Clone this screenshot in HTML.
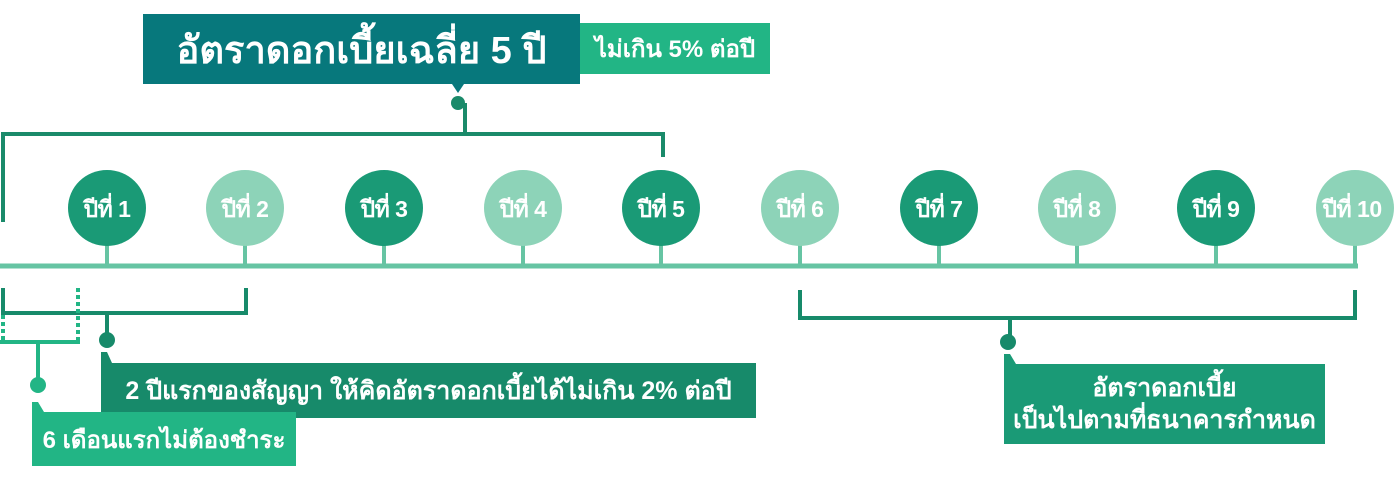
<!DOCTYPE html>
<html><head><meta charset="utf-8"><style>
html,body{margin:0;padding:0;background:#fff;}
body{width:1400px;height:480px;position:relative;overflow:hidden;font-family:"Liberation Sans","Noto Sans CJK SC",sans-serif;}
.a{position:absolute;}
.box{position:absolute;color:#fff;display:flex;align-items:center;justify-content:center;text-align:center;white-space:nowrap;}
</style></head><body>
<svg class="a" style="left:0;top:0" width="1400" height="480">
<g fill="none" stroke-linecap="butt">
<path d="M3 222 V134 H663 V157" stroke="#1a8a6a" stroke-width="4"/>
<line x1="465" y1="103" x2="465" y2="134" stroke="#1a8a6a" stroke-width="4"/>
<line x1="0" y1="266" x2="1358" y2="266" stroke="#66c4a3" stroke-width="5"/>
<g stroke="#66c4a3" stroke-width="4">
<line x1="107" y1="240" x2="107" y2="266"/><line x1="245" y1="240" x2="245" y2="266"/>
<line x1="384" y1="240" x2="384" y2="266"/><line x1="523" y1="240" x2="523" y2="266"/>
<line x1="661" y1="240" x2="661" y2="266"/><line x1="800" y1="240" x2="800" y2="266"/>
<line x1="939" y1="240" x2="939" y2="266"/><line x1="1077" y1="240" x2="1077" y2="266"/>
<line x1="1216" y1="240" x2="1216" y2="266"/><line x1="1355" y1="240" x2="1355" y2="266"/>
</g>
<path d="M3 288 V313 H246 V288" stroke="#178a6a" stroke-width="4"/>
<line x1="107" y1="313" x2="107" y2="340" stroke="#178a6a" stroke-width="4"/>
<line x1="78" y1="288" x2="78" y2="342" stroke="#22b585" stroke-width="4" stroke-dasharray="4 3"/>
<line x1="3" y1="315" x2="3" y2="342" stroke="#22b585" stroke-width="4" stroke-dasharray="4 3"/>
<line x1="0" y1="342" x2="80" y2="342" stroke="#22b585" stroke-width="4"/>
<line x1="38" y1="342" x2="38" y2="385" stroke="#22b585" stroke-width="4"/>
<path d="M800 290 V318 H1355 V290" stroke="#178a6a" stroke-width="4"/>
<line x1="1010" y1="318" x2="1010" y2="342" stroke="#178a6a" stroke-width="4"/>
</g>
<g>
<circle cx="458" cy="103" r="7" fill="#1a8a6a"/>
<circle cx="107" cy="340" r="8" fill="#178a6a"/>
<circle cx="38" cy="385" r="8" fill="#22b585"/>
<circle cx="1008" cy="342" r="8" fill="#178a6a"/>
<polygon points="452,84 464,84 458,93" fill="#07787c"/>
<polygon points="101,363 101,352 107,352 112,363" fill="#178a6a"/>
<polygon points="32,412 32,402 38,402 44,412" fill="#22b585"/>
<polygon points="1004,364 1004,354 1010,354 1016,364" fill="#1a9a76"/>
</g>
<g font-family="Liberation Sans, sans-serif" font-weight="bold" font-size="23" fill="#fff" text-anchor="middle" letter-spacing="-0.5">
<ellipse cx="107" cy="208" rx="39" ry="38" fill="#1a9a76"/><text x="107" y="217">ปีที่ 1</text>
<ellipse cx="245" cy="208" rx="39" ry="38" fill="#8dd3b8"/><text x="245" y="217">ปีที่ 2</text>
<ellipse cx="384" cy="208" rx="39" ry="38" fill="#1a9a76"/><text x="384" y="217">ปีที่ 3</text>
<ellipse cx="523" cy="208" rx="39" ry="38" fill="#8dd3b8"/><text x="523" y="217">ปีที่ 4</text>
<ellipse cx="661" cy="208" rx="39" ry="38" fill="#1a9a76"/><text x="661" y="217">ปีที่ 5</text>
<ellipse cx="800" cy="208" rx="39" ry="38" fill="#8dd3b8"/><text x="800" y="217">ปีที่ 6</text>
<ellipse cx="939" cy="208" rx="39" ry="38" fill="#1a9a76"/><text x="939" y="217">ปีที่ 7</text>
<ellipse cx="1077" cy="208" rx="39" ry="38" fill="#8dd3b8"/><text x="1077" y="217">ปีที่ 8</text>
<ellipse cx="1216" cy="208" rx="39" ry="38" fill="#1a9a76"/><text x="1216" y="217">ปีที่ 9</text>
<ellipse cx="1355" cy="208" rx="39" ry="38" fill="#8dd3b8"/><text x="1352" y="217">ปีที่ 10</text>
</g>
</svg>
<div class="box" style="left:143px;top:14px;width:437px;height:70px;background:#07787c;font-size:38px;font-weight:bold;">อัตราดอกเบี้ยเฉลี่ย 5 ปี</div>
<div class="box" style="left:580px;top:23px;width:190px;height:51px;background:#22b585;font-size:24px;font-weight:bold;">ไม่เกิน 5% ต่อปี</div>
<div class="box" style="left:101px;top:363px;width:655px;height:55px;background:#178a6a;font-size:25px;font-weight:bold;">2 ปีแรกของสัญญา ให้คิดอัตราดอกเบี้ยได้ไม่เกิน 2% ต่อปี</div>
<div class="box" style="left:32px;top:412px;width:264px;height:54px;background:#22b585;font-size:24px;font-weight:bold;">6 เดือนแรกไม่ต้องชำระ</div>
<div class="box" style="left:1004px;top:364px;width:321px;height:80px;background:#1a9a76;font-size:25px;font-weight:bold;line-height:32px;">อัตราดอกเบี้ย<br>เป็นไปตามที่ธนาคารกำหนด</div>
</body></html>
